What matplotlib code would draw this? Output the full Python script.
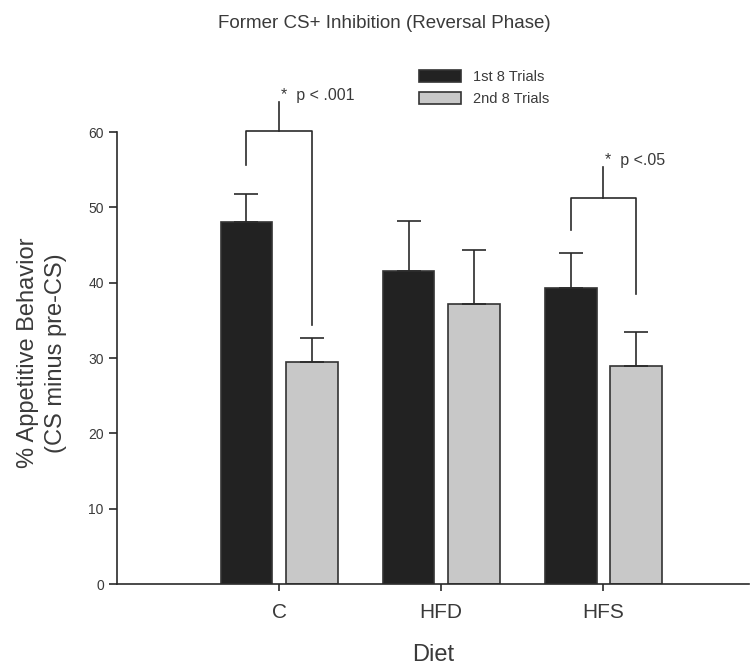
import matplotlib

matplotlib.use("Agg")
import matplotlib.pyplot as plt
import numpy as np
from matplotlib.patches import Patch

plt.rcParams["font.family"] = ["Liberation Sans", "DejaVu Sans"]

diets = ["C", "HFD", "HFS"]
series = ["1st 8 Trials", "2nd 8 Trials"]
first8 = [48.0, 41.6, 39.3]
first8_err = [3.8, 6.6, 4.6]
second8 = [29.5, 37.2, 29.0]
second8_err = [3.2, 7.1, 4.4]

# significance brackets: (diet index, top, left leg end, right leg end, stem top, label)
brackets = [
    (0, 60.1, 55.6, 34.4, 64.0, "*  p < .001"),
    (2, 51.3, 47.0, 38.5, 55.3, "*  p <.05"),
]

TXT = "#3a3a3a"
LINE = "#2a2a2a"

fig = plt.figure(figsize=(7.5, 6.69), dpi=100)
ax = fig.add_axes([117 / 750, 1 - 584 / 669, 632 / 750, 452 / 669])

x = np.arange(len(diets))
off, w = 0.201, 0.32
ekw = dict(ecolor=LINE, elinewidth=1.2, capsize=8.5, capthick=1.2)
ax.bar(x - off, first8, w, yerr=[np.zeros(3), first8_err], color="#222222",
       edgecolor="#333333", linewidth=1.2, error_kw=ekw, zorder=2)
ax.bar(x + off, second8, w, yerr=[np.zeros(3), second8_err], color="#c8c8c8",
       edgecolor="#333333", linewidth=1.2, error_kw=ekw, zorder=2)

for i, top, lbot, rbot, stem, label in brackets:
    ax.plot([i - off, i - off, i + off, i + off], [lbot, top, top, rbot],
            color=LINE, lw=1.2, clip_on=False)
    ax.plot([i, i], [top, stem], color=LINE, lw=1.2, clip_on=False)
    ax.text(i + 0.01, stem + 0.9, label, fontsize=11.5, color=TXT,
            ha="left", va="center", clip_on=False)

ax.set_xlim(-1.0, 2.9)
ax.set_ylim(0, 60)
ax.set_yticks(range(0, 61, 10))
ax.set_xticks(x)
ax.set_xticklabels(diets, fontsize=15, color=TXT)
ax.tick_params(axis="y", labelsize=10, labelcolor=TXT, color=LINE, length=6, width=1.2)
ax.tick_params(axis="x", color=LINE, length=5, width=1.2, pad=9)
for s in ["top", "right"]:
    ax.spines[s].set_visible(False)
for s in ["left", "bottom"]:
    ax.spines[s].set_color(LINE)
    ax.spines[s].set_linewidth(1.2)

fig.text(433 / 750, 1 - 655 / 669, "Diet", ha="center", va="center",
         fontsize=17, color=TXT)

fig.text(42 / 750, 1 - 353 / 669, "% Appetitive Behavior\n(CS minus pre-CS)", rotation=90,
         ha="center", va="center", multialignment="center", fontsize=17,
         color=TXT, linespacing=1.3)

fig.text(0.512, 1 - 23 / 669, "Former CS+ Inhibition (Reversal Phase)",
         ha="center", va="center", fontsize=13.5, color=TXT)

handles = [Patch(facecolor="#222222", edgecolor="#333333", linewidth=1.2),
           Patch(facecolor="#c8c8c8", edgecolor="#333333", linewidth=1.2)]
fig.legend(handles, series, loc="upper left", bbox_to_anchor=(419 / 750, 1 - 70 / 669),
           frameon=False, fontsize=10.5, handlelength=2.9, handleheight=0.9,
           handletextpad=0.8, labelspacing=0.55, borderpad=0, borderaxespad=0,
           labelcolor=TXT)

fig.savefig("out.png", dpi=100)
